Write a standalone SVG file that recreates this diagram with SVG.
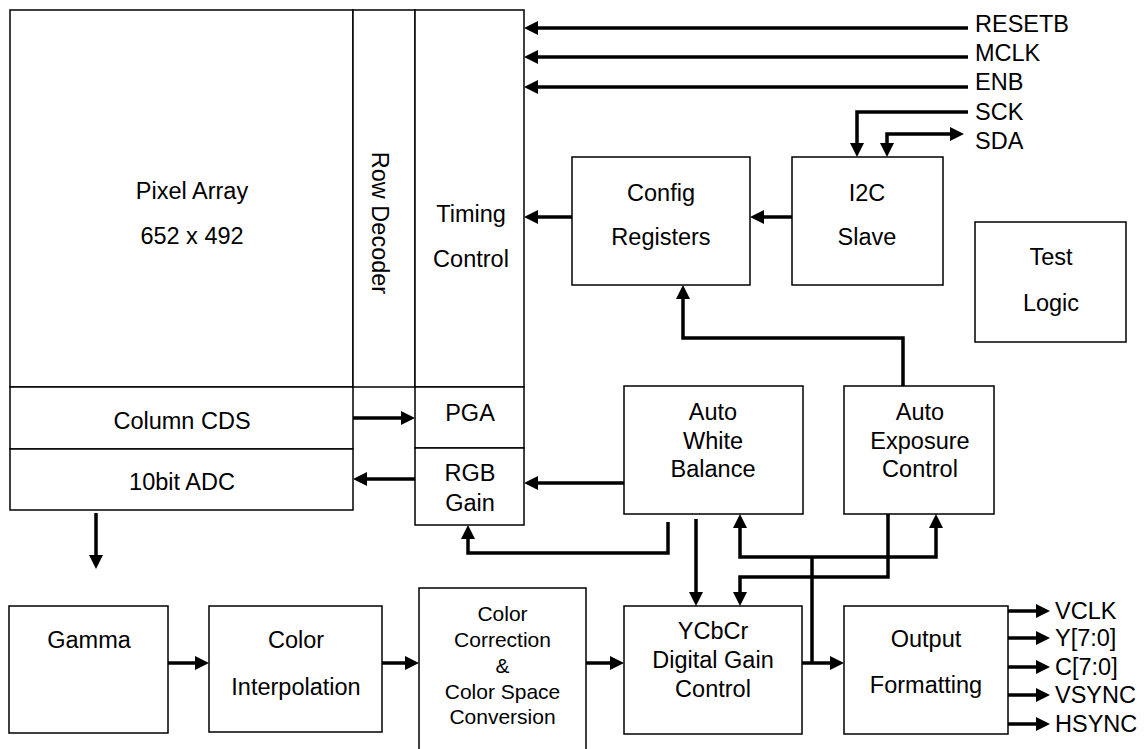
<svg xmlns="http://www.w3.org/2000/svg" width="1147" height="749" viewBox="0 0 1147 749">
<style>
.box{fill:#fff;stroke:#000;stroke-width:1.5}
.t{font-family:"Liberation Sans",Arial,sans-serif;font-size:23.5px;fill:#000;text-anchor:middle}
.s{font-family:"Liberation Sans",Arial,sans-serif;font-size:23.5px;fill:#000}
.sm{font-size:21px}
.c{fill:none;stroke:#000;stroke-width:3.5}
.a{marker-end:url(#ah)}
.b{marker-start:url(#ah);marker-end:url(#ah)}
</style>
<defs>
<marker id="ah" markerUnits="userSpaceOnUse" markerWidth="16" markerHeight="16" refX="10" refY="7" orient="auto-start-reverse">
<path d="M0,0 L14,7 L0,14 Z" fill="#000"/>
</marker>
</defs>
<rect width="1147" height="749" fill="#fff"/>

<g id="pixel-array"><rect class="box" x="10" y="10" width="343" height="377"/><text class="t" x="192" y="199">Pixel Array</text><text class="t" x="192" y="244">652 x 492</text></g>
<g id="column-cds"><rect class="box" x="10" y="387" width="343" height="62"/><text class="t" x="182" y="429">Column CDS</text></g>
<g id="adc"><rect class="box" x="10" y="449" width="343" height="61"/><text class="t" x="182" y="490">10bit ADC</text></g>
<g id="row-decoder"><rect class="box" x="353" y="10" width="62" height="377"/><text class="t" transform="translate(372,223) rotate(90)" x="0" y="0">Row Decoder</text></g>
<g id="timing-control"><rect class="box" x="415" y="10" width="109" height="377"/><text class="t" x="471" y="222">Timing</text><text class="t" x="471" y="267">Control</text></g>
<g id="pga"><rect class="box" x="415" y="387" width="109" height="61"/><text class="t" x="470" y="421">PGA</text></g>
<g id="rgb-gain"><rect class="box" x="415" y="448" width="109" height="77"/><text class="t" x="470" y="481">RGB</text><text class="t" x="470" y="511">Gain</text></g>
<g id="config-registers"><rect class="box" x="572" y="157" width="178" height="128"/><text class="t" x="661" y="201">Config</text><text class="t" x="661" y="245">Registers</text></g>
<g id="i2c-slave"><rect class="box" x="792" y="157" width="151" height="128"/><text class="t" x="867" y="201">I2C</text><text class="t" x="867" y="245">Slave</text></g>
<g id="test-logic"><rect class="box" x="975" y="222" width="151" height="120"/><text class="t" x="1051" y="265">Test</text><text class="t" x="1051" y="311">Logic</text></g>
<g id="auto-white-balance"><rect class="box" x="624" y="386" width="179" height="128"/><text class="t" x="713" y="420">Auto</text><text class="t" x="713" y="448.5">White</text><text class="t" x="713" y="477">Balance</text></g>
<g id="auto-exposure-control"><rect class="box" x="844" y="386" width="150" height="128"/><text class="t" x="920" y="420">Auto</text><text class="t" x="920" y="448.5">Exposure</text><text class="t" x="920" y="477">Control</text></g>
<g id="gamma"><rect class="box" x="9" y="606" width="159" height="127"/><text class="t" x="89" y="648">Gamma</text></g>
<g id="color-interpolation"><rect class="box" x="209" y="606" width="173" height="126"/><text class="t" x="296" y="648">Color</text><text class="t" x="296" y="695">Interpolation</text></g>
<g id="color-correction"><path class="box" d="M419,752 V588 H586 V752"/><text class="t sm" x="502.5" y="621">Color</text><text class="t sm" x="502.5" y="647">Correction</text><text class="t sm" x="502.5" y="673">&amp;</text><text class="t sm" x="502.5" y="699">Color Space</text><text class="t sm" x="502.5" y="724">Conversion</text></g>
<g id="ycbcr-gain"><rect class="box" x="624" y="606" width="178" height="128"/><text class="t" x="713" y="639">YCbCr</text><text class="t" x="713" y="668">Digital Gain</text><text class="t" x="713" y="697">Control</text></g>
<g id="output-formatting"><rect class="box" x="844" y="606" width="164" height="128"/><text class="t" x="926" y="647">Output</text><text class="t" x="926" y="693">Formatting</text></g>

<g id="labels">
<text class="s" x="975" y="32">RESETB</text>
<text class="s" x="975" y="61">MCLK</text>
<text class="s" x="975" y="90">ENB</text>
<text class="s" x="975" y="120">SCK</text>
<text class="s" x="975" y="149">SDA</text>
<text class="s" x="1055" y="619">VCLK</text>
<text class="s" x="1055" y="646">Y[7:0]</text>
<text class="s" x="1055" y="675">C[7:0]</text>
<text class="s" x="1055" y="703">VSYNC</text>
<text class="s" x="1055" y="732">HSYNC</text>
</g>

<g id="connectors">
<path class="c a" d="M968,28 H528"/>
<path class="c a" d="M968,57 H528"/>
<path class="c a" d="M968,87 H528"/>
<path class="c a" d="M968,112 H857 V153"/>
<path class="c b" d="M960,134 H887 V153"/>
<path class="c a" d="M792,217 H754"/>
<path class="c a" d="M572,217 H528"/>
<path class="c a" d="M903,386 V338 H683 V289"/>
<path class="c a" d="M353,418 H411"/>
<path class="c a" d="M415,479 H357"/>
<path class="c a" d="M624,483 H528"/>
<path class="c a" d="M668,522 V553 H468 V529"/>
<path class="c a" d="M96,513 V565"/>
<path class="c a" d="M168,663 H205"/>
<path class="c a" d="M382,663 H415"/>
<path class="c a" d="M586,663 H620"/>
<path class="c a" d="M802,663 H840"/>
<path class="c a" d="M696,519 V602"/>
<path class="c" d="M812,663 V557"/>
<path class="c b" d="M740,518 V557 H936 V518"/>
<path class="c a" d="M888,514 V577 H740 V602"/>
<path class="c a" d="M1008,611 H1046"/>
<path class="c a" d="M1008,638 H1046"/>
<path class="c a" d="M1008,667 H1046"/>
<path class="c a" d="M1008,695 H1046"/>
<path class="c a" d="M1008,724 H1046"/>
</g>
</svg>
